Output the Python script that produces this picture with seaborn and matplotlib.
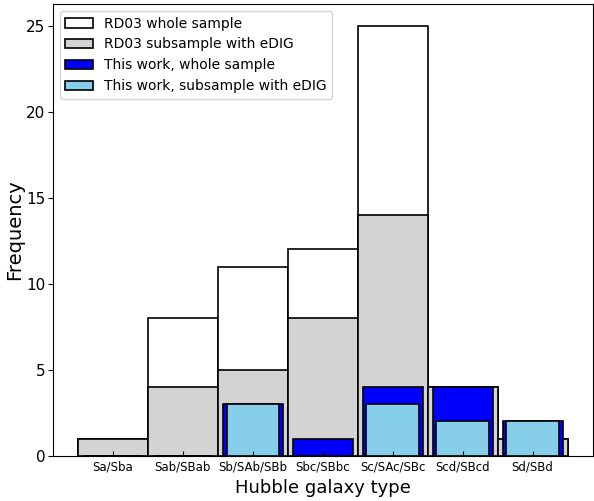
import matplotlib
matplotlib.use("Agg")
import matplotlib.pyplot as plt
import seaborn as sns

# Hubble types and counts
types = ['Sa/Sba', 'Sab/SBab', 'Sb/SAb/SBb', 'Sbc/SBbc', 'Sc/SAc/SBc', 'Scd/SBcd', 'Sd/SBd']
rd03_whole = [1, 8, 11, 12, 25, 4, 1]
rd03_edig = [1, 4, 5, 8, 14, 4, 1]
work_whole = [0, 0, 3, 1, 4, 4, 2]
work_edig = [0, 0, 3, 0, 3, 2, 2]

fig, ax = plt.subplots(figsize=(5.94, 5.01), dpi=100)

sns.barplot(x=types, y=rd03_whole, color='white', edgecolor='black', linewidth=1.2,
            width=1.0, saturation=1, label='RD03 whole sample', ax=ax)
sns.barplot(x=types, y=rd03_edig, color='lightgray', edgecolor='black', linewidth=1.2,
            width=1.0, saturation=1, label='RD03 subsample with eDIG', ax=ax)
sns.barplot(x=types, y=work_whole, color='blue', edgecolor='black', linewidth=1.2,
            width=0.86, saturation=1, label='This work, whole sample', ax=ax)
sns.barplot(x=types, y=work_edig, color='skyblue', edgecolor='black', linewidth=1.2,
            width=0.75, saturation=1, label='This work, subsample with eDIG', ax=ax)

ax.set_xlim(-0.857, 6.86)
ax.set_ylim(0, 26.25)
ax.set_xlabel('Hubble galaxy type', fontsize=13)
ax.set_ylabel('Frequency', fontsize=14, labelpad=1)
ax.tick_params(axis='x', direction='in', labelsize=8.5)
ax.tick_params(axis='y', labelsize=11, pad=2)
ax.legend(loc='upper left', fontsize=10)

plt.subplots_adjust(left=0.089, right=0.998, top=0.992, bottom=0.09)
plt.savefig('out.png', dpi=100)
